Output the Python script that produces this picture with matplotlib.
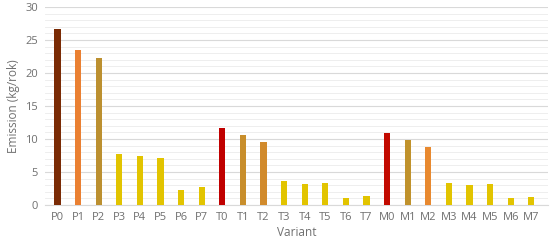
import matplotlib.pyplot as plt
from matplotlib.ticker import MultipleLocator

varianty = ['P0', 'P1', 'P2', 'P3', 'P4', 'P5', 'P6', 'P7',
            'T0', 'T1', 'T2', 'T3', 'T4', 'T5', 'T6', 'T7',
            'M0', 'M1', 'M2', 'M3', 'M4', 'M5', 'M6', 'M7']
emise = [26.7, 23.4, 22.3, 7.7, 7.4, 7.1, 2.2, 2.8,
         11.7, 10.6, 9.5, 3.6, 3.2, 3.4, 1.1, 1.4,
         10.9, 9.9, 8.8, 3.4, 3.1, 3.2, 1.0, 1.2]

zluta = '#E2C400'
barvy = ['#7A2B05', '#EA8032', '#BC9030', zluta, zluta, zluta, zluta, zluta,
         '#C00000', '#C88E2C', '#D18A2C', zluta, zluta, zluta, zluta, zluta,
         '#C20A00', '#C0922C', '#E8892F', zluta, zluta, zluta, zluta, zluta]

plt.rcParams['font.family'] = ['Open Sans', 'DejaVu Sans']

fig = plt.figure(figsize=(5.5, 2.47), dpi=100)
ax = fig.add_axes([0.082, 0.17, 0.914, 0.802])

x = range(len(varianty))
ax.bar(x, emise, width=0.3, color=barvy, zorder=3)

ax.set_ylim(0, 30)
ax.set_xlim(-0.6, 23.8)
ax.yaxis.set_major_locator(MultipleLocator(5))
ax.yaxis.set_minor_locator(MultipleLocator(1))
ax.grid(axis='y', which='major', color='#D9D9D9', linewidth=0.8, zorder=0)
ax.grid(axis='y', which='minor', color='#EBEBEB', linewidth=0.6, zorder=0)

ax.set_xticks(list(x))
ax.set_xticklabels(varianty)
for s in ['top', 'right', 'left']:
    ax.spines[s].set_visible(False)
ax.spines['bottom'].set_color('#D9D9D9')
ax.tick_params(axis='both', which='both', length=0, labelsize=8, colors='#6F6F6F', pad=5)

ax.set_ylabel('Emission (kg/rok)', fontsize=8.5, color='#6F6F6F')
ax.set_xlabel('Variant', fontsize=8.5, color='#6F6F6F', labelpad=2)

fig.savefig('out.png', dpi=100)
